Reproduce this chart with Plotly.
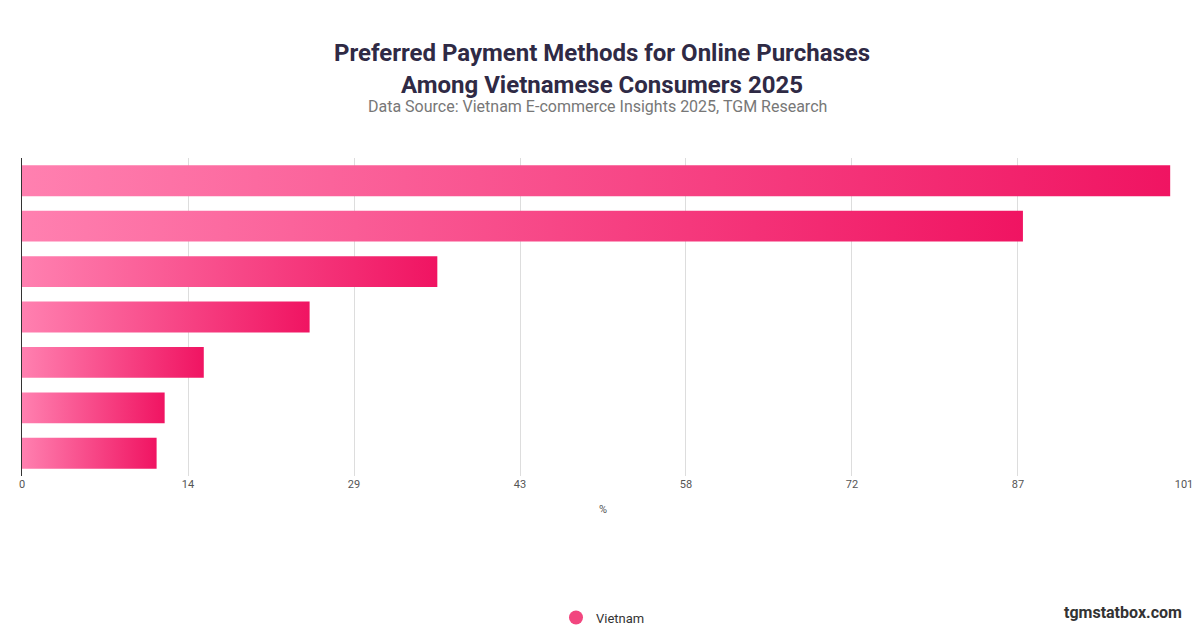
import plotly.graph_objects as go

methods = ["Method 1", "Method 2", "Method 3", "Method 4", "Method 5", "Method 6", "Method 7"]
values = [99.8, 87.0, 36.1, 25.0, 15.8, 12.4, 11.7]
tick_vals = [0, 14.43, 28.86, 43.29, 57.71, 72.14, 86.57, 101]
tick_text = ["0", "14", "29", "43", "58", "72", "87", "101"]

fig = go.Figure()
half = 0.34
for i, v in enumerate(values):
    y0 = i - half
    y1 = i + half
    fig.add_trace(go.Scatter(
        x=[0, v, v, 0, 0], y=[y0, y0, y1, y1, y0],
        mode="lines", line=dict(width=0), fill="toself",
        fillgradient=dict(type="horizontal",
                          colorscale=[[0, "#ff80b0"], [1, "#f01462"]]),
        hoverinfo="skip", showlegend=False))

fig.add_trace(go.Scatter(x=[None], y=[None], mode="markers", name="Vietnam",
                         marker=dict(size=14, color="#f2467f")))

# plot area: 150..468 px vertically, 14..1176 px horizontally
fig.update_layout(
    width=1200, height=628, plot_bgcolor="white", paper_bgcolor="white",
    margin=dict(l=14, r=24, t=150, b=160, autoexpand=False),
    font=dict(family="Roboto, sans-serif", color="#555"),
    title=dict(text="<b>Preferred Payment Methods for Online Purchases<br>Among Vietnamese Consumers 2025</b>",
               x=0.495, xanchor="center", y=0.915, yanchor="middle",
               font=dict(size=24, color="#2f2a45")),
    xaxis=dict(range=[0, 101], tickvals=tick_vals, ticktext=tick_text, automargin=False,
               showgrid=True, gridcolor="#dddddd", zeroline=False,
               title=dict(text="%", font=dict(size=11)), tickfont=dict(size=11)),
    yaxis=dict(range=[6.5, -0.5], showticklabels=False, showgrid=False, automargin=False,
               zeroline=False, showline=True, linecolor="#333", linewidth=1),
    legend=dict(orientation="h", x=0.5, xanchor="center", y=-0.445, yanchor="middle",
                font=dict(size=13, color="#333")),
    annotations=[
        dict(text="Data Source: Vietnam E-commerce Insights 2025, TGM Research",
             xref="paper", yref="paper", x=0.495, y=1.161, yanchor="middle", showarrow=False,
             font=dict(size=16, color="#777"), xanchor="center"),
        dict(text="<b>◆ STAT</b>BOX", xref="paper", yref="paper", x=0.01, y=1.66,
             yanchor="middle", showarrow=False, xanchor="left", font=dict(size=32, color="#222")),
        dict(text="<b>tgmstatbox.com</b>", xref="paper", yref="paper", x=1.0, y=-0.43,
             yanchor="middle", showarrow=False, xanchor="right", font=dict(size=16, color="#333")),
    ],
)

fig.write_html("out.html")
